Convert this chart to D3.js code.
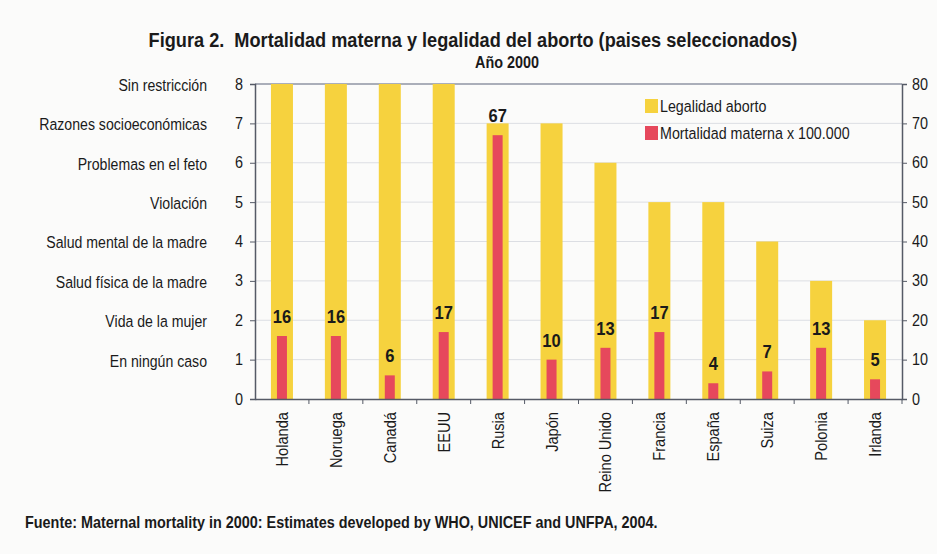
<!DOCTYPE html>
<html>
<head>
<meta charset="utf-8">
<script src="https://cdn.jsdelivr.net/npm/d3@7"></script>
<style>
  body { margin: 0; background: #fbfbfa; }
  text { font-family: "Liberation Sans", Arial, sans-serif; fill: #1a1a1a; }
</style>
</head>
<body>
<div id="chart"></div>
<script>
// data
var countries = ["Holanda", "Noruega", "Canadá", "EEUU", "Rusia", "Japón", "Reino Unido", "Francia", "España", "Suiza", "Polonia", "Irlanda"];
var legality = [8, 8, 8, 8, 7, 7, 6, 5, 5, 4, 3, 2];
var mortality = [16, 16, 6, 17, 67, 10, 13, 17, 4, 7, 13, 5];
var legalLabels = ["En ningún caso", "Vida de la mujer", "Salud física de la madre", "Salud mental de la madre", "Violación", "Problemas en el feto", "Razones socioeconómicas", "Sin restricción"];
var leftTicks = [0, 1, 2, 3, 4, 5, 6, 7, 8];
var rightTicks = [0, 10, 20, 30, 40, 50, 60, 70, 80];

var width = 937, height = 554;
var plotLeft = 255, plotRight = 902, plotTop = 84, plotBottom = 399;
var yellow = "#f6d23e", red = "#e6485c", axisColor = "#555a66";

var svg = d3.select("#chart").append("svg")
    .attr("width", width)
    .attr("height", height);

// the original uses a narrow face, so texts get squeezed horizontally
function squeeze(sel, k) {
    sel.each(function() {
        var t = d3.select(this);
        var x = +t.attr("x") || 0, y = +t.attr("y") || 0;
        var pre = t.attr("transform") || "";
        t.attr("x", 0).attr("y", 0)
            .attr("transform", pre + " translate(" + x + "," + y + ") scale(" + k + ",1)");
    });
}

var x = d3.scaleBand().domain(countries).range([plotLeft, plotRight]);
var yL = d3.scaleLinear().domain([0, 8]).range([plotBottom, plotTop]);
var yR = d3.scaleLinear().domain([0, 80]).range([plotBottom, plotTop]);

// gridlines
svg.append("g").selectAll("line")
    .data(leftTicks.slice(1, 8))
    .join("line")
    .attr("x1", plotLeft).attr("x2", plotRight)
    .attr("y1", d => yL(d)).attr("y2", d => yL(d))
    .attr("stroke", "#dcdee3").attr("stroke-width", 1);

svg.append("line")
    .attr("x1", plotLeft).attr("x2", plotRight)
    .attr("y1", plotTop).attr("y2", plotTop)
    .attr("stroke", "#8f95a3").attr("stroke-width", 1.5);

// bars
var yellowW = 22, redW = 10;
svg.append("g").selectAll("rect")
    .data(countries)
    .join("rect")
    .attr("x", d => x(d) + x.bandwidth() / 2 - yellowW / 2)
    .attr("width", yellowW)
    .attr("y", (d, i) => yL(legality[i]))
    .attr("height", (d, i) => plotBottom - yL(legality[i]))
    .attr("fill", yellow);

svg.append("g").selectAll("rect")
    .data(countries)
    .join("rect")
    .attr("x", d => x(d) + x.bandwidth() / 2 - redW / 2)
    .attr("width", redW)
    .attr("y", (d, i) => yR(mortality[i]))
    .attr("height", (d, i) => plotBottom - yR(mortality[i]))
    .attr("fill", red);

var values = svg.append("g").selectAll("text")
    .data(countries)
    .join("text")
    .attr("x", d => x(d) + x.bandwidth() / 2)
    .attr("y", (d, i) => yR(mortality[i]) - 13)
    .attr("text-anchor", "middle")
    .attr("font-size", 19)
    .attr("font-weight", "bold")
    .text((d, i) => mortality[i]);
squeeze(values, 0.87);

// axes
var axL = svg.append("g")
    .attr("transform", "translate(" + plotLeft + ",0)")
    .call(d3.axisLeft(yL).tickValues(leftTicks).tickSize(5).tickPadding(7));
var axR = svg.append("g")
    .attr("transform", "translate(" + plotRight + ",0)")
    .call(d3.axisRight(yR).tickValues(rightTicks).tickSize(5).tickPadding(5));
var axB = svg.append("g")
    .attr("transform", "translate(0," + plotBottom + ")")
    .call(d3.axisBottom(x).tickSize(0).tickPadding(0));

[axL, axR, axB].forEach(function(a) {
    a.select(".domain").attr("stroke", axisColor).attr("stroke-width", 1.5);
    a.selectAll(".tick line").attr("stroke", axisColor);
    a.selectAll("text").attr("fill", "#1a1a1a")
        .attr("font-family", "'Liberation Sans', Arial, sans-serif");
});
axL.selectAll(".tick text").attr("font-size", 16).attr("dy", "0.32em");
squeeze(axL.selectAll(".tick text"), 0.9);
axR.selectAll(".tick text").attr("font-size", 16).attr("dy", "0.32em");
squeeze(axR.selectAll(".tick text"), 0.9);

// tick marks between categories on the x axis
svg.append("g").selectAll("line")
    .data(countries)
    .join("line")
    .attr("x1", d => x(d) + x.bandwidth())
    .attr("x2", d => x(d) + x.bandwidth())
    .attr("y1", plotBottom).attr("y2", plotBottom + 5)
    .attr("stroke", axisColor);

axB.selectAll(".tick text")
    .attr("transform", "rotate(-90)")
    .attr("text-anchor", "end")
    .attr("x", -13)
    .attr("y", 0)
    .attr("dy", "0.35em")
    .attr("font-size", 17);
squeeze(axB.selectAll(".tick text"), 0.86);

// category labels for the legality scale
var cats = svg.append("g").selectAll("text")
    .data(legalLabels)
    .join("text")
    .attr("x", 207)
    .attr("y", (d, i) => yL(i + 1) + 1)
    .attr("dy", "0.35em")
    .attr("text-anchor", "end")
    .attr("font-size", 17)
    .text(d => d);
squeeze(cats, 0.83);

// titles
var title = svg.append("text")
    .attr("x", 473).attr("y", 47)
    .attr("text-anchor", "middle")
    .attr("font-size", 21)
    .attr("font-weight", "bold")
    .attr("xml:space", "preserve")
    .text("Figura 2.  Mortalidad materna y legalidad del aborto (paises seleccionados)");
squeeze(title, 0.865);

var sub = svg.append("text")
    .attr("x", 507).attr("y", 68)
    .attr("text-anchor", "middle")
    .attr("font-size", 16)
    .attr("font-weight", "bold")
    .text("Año 2000");
squeeze(sub, 0.9);

// legend
var legend = [["Legalidad aborto", yellow], ["Mortalidad materna x 100.000", red]];
var lg = svg.append("g").attr("transform", "translate(645,99)");
lg.selectAll("rect")
    .data(legend)
    .join("rect")
    .attr("x", 0).attr("y", (d, i) => i * 27)
    .attr("width", 13).attr("height", 14)
    .attr("fill", d => d[1]);
var lgText = lg.selectAll("text")
    .data(legend)
    .join("text")
    .attr("x", 15).attr("y", (d, i) => i * 27 + 7)
    .attr("dy", "0.35em")
    .attr("font-size", 17)
    .text(d => d[0]);
squeeze(lgText, 0.84);

var foot = svg.append("text")
    .attr("x", 25).attr("y", 528)
    .attr("font-size", 16)
    .attr("font-weight", "bold")
    .text("Fuente: Maternal mortality in 2000: Estimates developed by WHO, UNICEF and UNFPA, 2004.");
squeeze(foot, 0.9);
</script>
</body>
</html>
